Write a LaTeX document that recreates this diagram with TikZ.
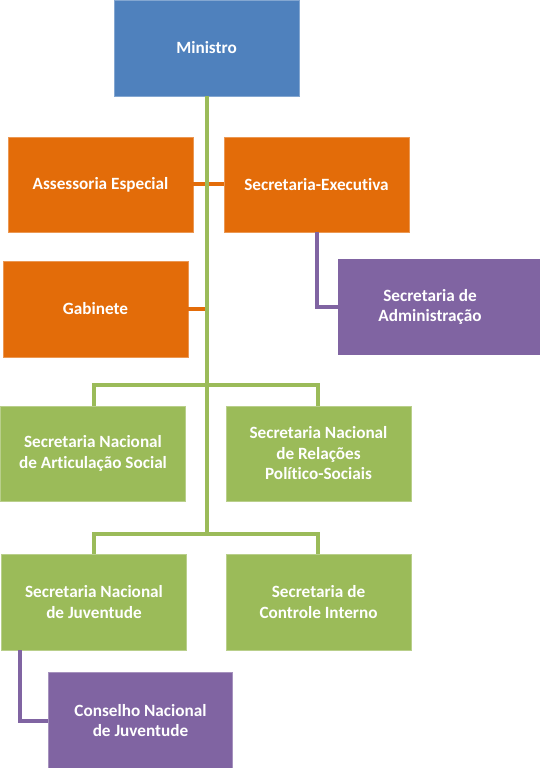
\documentclass[tikz,border=0pt]{standalone}
\usepackage{fontspec}
\setmainfont{Carlito}[Ligatures={NoCommon}]
\definecolor{cblue}{HTML}{4F81BD}
\definecolor{corange}{HTML}{E36C09}
\definecolor{cpurple}{HTML}{8064A2}
\definecolor{cgreen}{HTML}{9BBB59}
\begin{document}
\begin{tikzpicture}[x=1pt,y=-1pt,
  box/.style={rectangle, minimum width=185pt, minimum height=95pt, inner sep=2pt,
    text=white, font=\fontsize{17.2}{20.5}\selectfont\bfseries, align=center},
  bluebox/.style={box, fill=cblue, draw=cblue!70!white, line width=0.8pt},
  orangebox/.style={box, fill=corange, draw=corange!70!white, line width=0.8pt},
  greenbox/.style={box, fill=cgreen, draw=cgreen!70!white, line width=0.8pt},
  purplebox/.style={box, fill=cpurple, draw=cpurple!70!white, line width=0.8pt},
  gline/.style={draw=cgreen, line width=4pt},
  oline/.style={draw=corange, line width=4pt},
  pline/.style={draw=cpurple, line width=4pt}]
\useasboundingbox (0,0) rectangle (540,768);
\coordinate (h1) at (206.5,385);
\coordinate (h2) at (206.5,534);
\node[bluebox, minimum height=96pt] (min) at (206.5,48) {Ministro};
\node[orangebox] (ass) at (100.5,184.5) {Assessoria Especial};
\node[orangebox] (sec) at (316.5,184.5) {Secretaria-Executiva};
\node[orangebox, minimum height=96pt] (gab) at (95.5,309) {Gabinete};
\node[greenbox] (art) at (93,453.5) {Secretaria Nacional\\de Articulação Social};
\node[greenbox] (rel) at (318.5,453.5) {Secretaria Nacional\\de Relações\\Político-Sociais};
\node[greenbox, minimum height=96pt] (juv) at (94,602) {Secretaria Nacional\\de Juventude};
\node[greenbox, minimum height=96pt] (ctl) at (318.5,602) {Secretaria de\\Controle Interno};
\node[purplebox, minimum width=184pt, minimum height=96pt] (con) at (140.5,720.5) {Conselho Nacional\\de Juventude};
\fill[cpurple] (522,259) rectangle (540,355);
\node[purplebox, minimum width=184pt, minimum height=96pt, draw=none] (adm) at (430,307) {Secretaria de\\Administração};
% connectors
\draw[oline] (ass.east |- 0,184) -- (sec.west |- 0,184);
\draw[oline] (gab.east |- 0,309) -- (206.5,309);
\draw[gline] (min.south) -- (h2);
\draw[gline] (art.north -| 94,0) |- (h1) -| (rel.north -| 318,0);
\draw[gline] (juv.north) |- (h2) -| (ctl.north -| 318,0);
\draw[pline] (sec.south -| 317,0) |- (adm.west);
\draw[pline] (juv.south -| 20,0) |- (con.west);
\end{tikzpicture}
\end{document}
